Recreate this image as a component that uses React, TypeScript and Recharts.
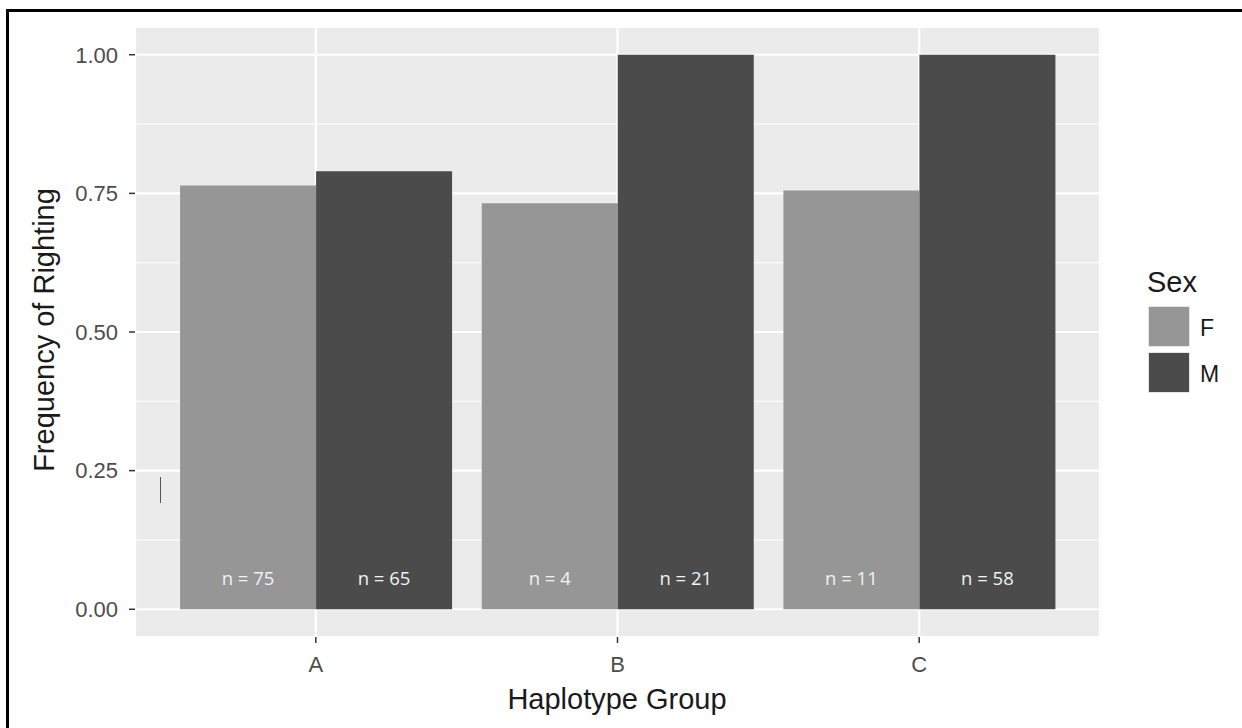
import { BarChart, Bar, XAxis, YAxis, CartesianGrid, LabelList } from 'recharts';

const groups = ['A', 'B', 'C'];
const femaleFreq = [0.764, 0.732, 0.755];
const maleFreq = [0.79, 1.0, 1.0];
const femaleN = [75, 4, 11];
const maleN = [65, 21, 58];
const yTicks = [0, 0.25, 0.5, 0.75, 1];
const yMinorTicks = [0.125, 0.375, 0.625, 0.875];

const sexes = [
  { key: 'F', label: 'F', color: '#969696' },
  { key: 'M', label: 'M', color: '#4b4b4b' },
];

const data = groups.map((g, i) => ({
  group: g,
  F: femaleFreq[i],
  M: maleFreq[i],
  nF: femaleN[i],
  nM: maleN[i],
}));

const FONT = '"Liberation Sans", Arial, sans-serif';

function CountLabel(props: any) {
  const { x, y, width, height, value } = props;
  return (
    <text
      x={x + width / 2}
      y={y + height - 32}
      fill="#f2f2f2"
      fontSize={18.5}
      fontFamily='"Open Sans", sans-serif'
      textAnchor="middle"
      dominantBaseline="central"
    >
      {`n = ${value}`}
    </text>
  );
}

export default function App() {
  return (
    <div style={{ position: 'absolute', left: 0, top: 0, width: 1242, height: 728, background: '#fff', fontFamily: FONT }}>
      <div style={{ position: 'absolute', left: 6, top: 9, right: -10, bottom: -10, borderLeft: '3px solid #000', borderTop: '3px solid #000' }} />
      <BarChart
        width={1242}
        height={728}
        data={data}
        margin={{ top: 27, right: 142, bottom: 51, left: 75 }}
        barCategoryGap="5%"
        barGap={0}
      >
        <CartesianGrid fill="#ebebeb" stroke="#ffffff" strokeWidth={2.2} />
        <CartesianGrid yAxisId="minor" vertical={false} fill="none" stroke="#ffffff" strokeWidth={1.1} />
        <XAxis
          dataKey="group"
          padding={{ left: 30, right: 30 }}
          height={40}
          axisLine={false}
          tickSize={6}
          tickMargin={13}
          tickLine={{ stroke: '#333333', strokeWidth: 1.5 }}
          tick={{ fill: '#4d4d4d', fontSize: 22, fontFamily: FONT }}
        />
        <YAxis
          width={60}
          domain={[-0.05, 1.05]}
          ticks={yTicks}
          allowDataOverflow
          axisLine={false}
          tickSize={6}
          tickMargin={11}
          tickLine={{ stroke: '#333333', strokeWidth: 1.5 }}
          tick={{ fill: '#4d4d4d', fontSize: 22, fontFamily: FONT }}
          tickFormatter={(v: number) => v.toFixed(2)}
        />
        <YAxis yAxisId="minor" hide domain={[-0.05, 1.05]} ticks={yMinorTicks} allowDataOverflow />
        {sexes.map((s) => (
          <Bar key={s.key} dataKey={s.key} fill={s.color} isAnimationActive={false}>
            <LabelList dataKey={`n${s.key}`} content={CountLabel} />
          </Bar>
        ))}
      </BarChart>

      <div
        style={{
          position: 'absolute',
          left: 44,
          top: 330,
          transform: 'translate(-50%, -50%) rotate(-90deg)',
          whiteSpace: 'nowrap',
          fontSize: 29,
          lineHeight: 1,
          color: '#1a1a1a',
        }}
      >
        Frequency of Righting
      </div>
      <div style={{ position: 'absolute', left: 417, width: 400, top: 685, textAlign: 'center', whiteSpace: 'nowrap', fontSize: 29, lineHeight: 1, color: '#1a1a1a' }}>
        Haplotype Group
      </div>

      <div style={{ position: 'absolute', left: 160, top: 477, width: 1, height: 26, background: '#555' }} />

      <div style={{ position: 'absolute', left: 1147, top: 268, fontSize: 29, lineHeight: 1, color: '#1a1a1a' }}>Sex</div>
      {sexes.map((s, i) => (
        <div key={s.key}>
          <div
            style={{
              position: 'absolute',
              left: 1148,
              top: 306 + i * 46,
              width: 42,
              height: 41,
              boxSizing: 'border-box',
              border: '1px solid #e6e6e6',
              background: s.color,
            }}
          />
          <div style={{ position: 'absolute', left: 1200, top: 317 + i * 46, fontSize: 23, lineHeight: 1, color: '#1a1a1a' }}>
            {s.label}
          </div>
        </div>
      ))}
    </div>
  );
}
